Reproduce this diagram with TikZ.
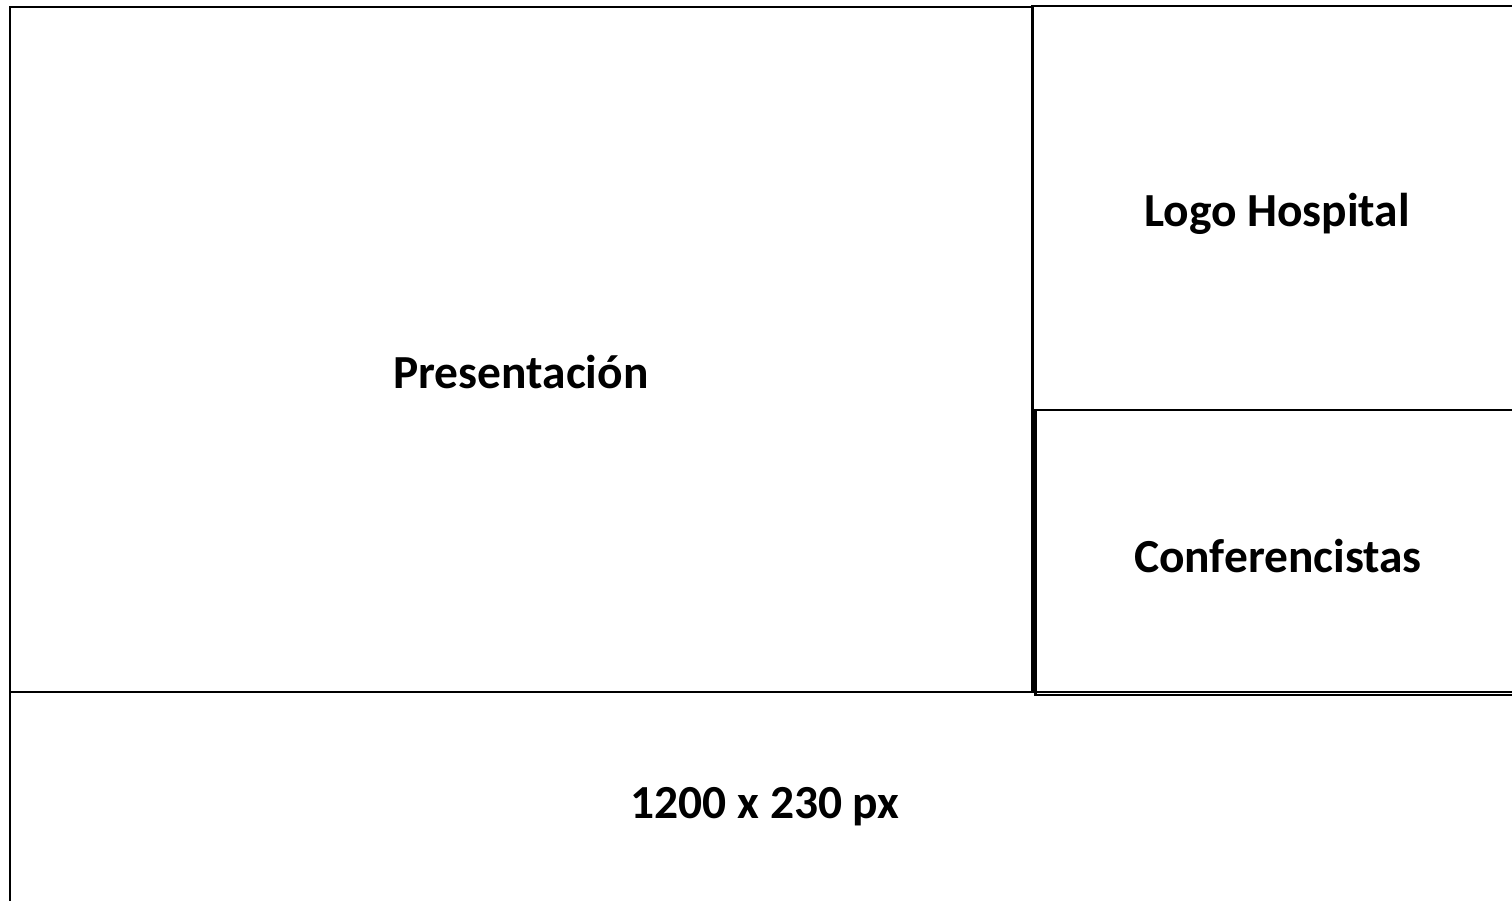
\documentclass[tikz,border=0pt]{standalone}
\usepackage{fontspec}
\setmainfont{Carlito}
\tikzset{
  panel/.style={line width=1.7pt},
  caption/.style={anchor=base, inner sep=0pt, font=\fontsize{27}{32}\selectfont\bfseries}
}
\begin{document}
\begin{tikzpicture}
  \clip (0, 0) rectangle (30.24, -18.02);

  % Presentation
  \draw [panel] (0.2, -0.14) rectangle (20.64, -13.84);
  \node [caption] (presentacion) at (10.42, -7.78) {Presentación};

  % Logo
  \draw [panel] (20.64, -0.12) rectangle (30.6, -8.2);
  \node [caption] (logo) at (25.54, -4.54) {Logo Hospital};

  % Speakers
  \draw [panel] (20.7, -8.2) rectangle (30.6, -13.9);
  \node [caption] (conferencistas) at (25.56, -11.44) {Conferencistas};

  % Banner
  \draw [panel] (0.2, -13.84) rectangle (30.6, -18.6);
  \node [caption] (banner) at (15.3, -16.36) {1200 x 230 px};
\end{tikzpicture}
\end{document}
